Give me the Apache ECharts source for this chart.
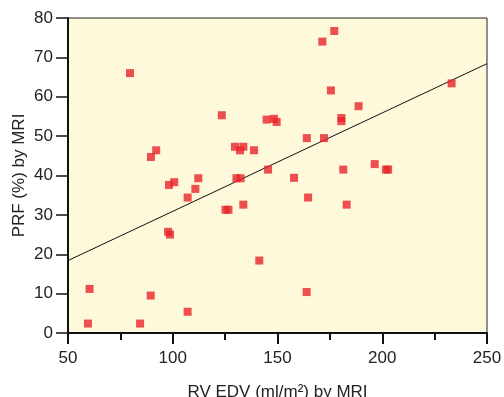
<!DOCTYPE html>
<html><head><meta charset="utf-8">
<script src="https://cdn.jsdelivr.net/npm/echarts@6/dist/echarts.min.js"></script>
<style>html,body{margin:0;padding:0;background:#fff}#c{width:504px;height:397px}</style>
</head><body><div id="c"></div>
<script>
const rvEdv = [60.3,59.5,79.6,84.4,89.5,89.6,92.1,97.8,98.7,98.2,100.7,107.1,107.1,110.8,112.2,123.4,125.2,126.6,129.7,130.4,132.4,132.1,133.7,133.7,138.8,141.3,144.8,145.5,148.3,149.6,157.9,163.9,164.0,164.6,171.4,172.2,175.5,177.1,180.5,180.5,181.4,183.0,188.7,196.4,201.8,202.8,233.1];
const prf   = [11.2,2.4,66.0,2.4,9.5,44.7,46.4,25.7,25.0,37.6,38.3,5.4,34.4,36.6,39.3,55.3,31.3,31.3,47.3,39.3,39.3,46.4,47.3,32.6,46.4,18.4,54.2,41.5,54.4,53.6,39.4,10.4,49.5,34.4,74.0,49.5,61.6,76.7,54.6,53.8,41.5,32.6,57.6,42.9,41.5,41.5,63.4];
const fitX = [50, 250];
const fitY = [18.4, 68.4];
const xTicks = [50, 100, 150, 200, 250];
const yTicks = [0, 10, 20, 30, 40, 50, 60, 70, 80];

const pts = rvEdv.map((v, i) => [v, prf[i]]);
const fit = fitX.map((v, i) => [v, fitY[i]]);
const font = '"Liberation Sans", Arial, sans-serif';
const chart = echarts.init(document.getElementById('c'), null, {renderer: 'canvas'});
chart.setOption({
  animation: false,
  grid: {left: 68, right: 17, top: 18, bottom: 64, show: true, backgroundColor: '#FEF9DA', borderColor: '#222', borderWidth: 1, containLabel: false, outerBoundsMode: 'none'},
  xAxis: {
    type: 'value', min: xTicks[0], max: xTicks[xTicks.length-1], interval: 50,
    name: 'RV EDV (ml/m²) by MRI', nameLocation: 'middle', nameGap: 51, nameMoveOverlap: false,
    nameTextStyle: {fontFamily: font, fontSize: 17, color: '#222'},
    axisLine: {show: true, onZero: false, lineStyle: {color: '#111', width: 2}},
    axisTick: {show: true, inside: false, length: 11, lineStyle: {color: '#111', width: 2}},
    minorTick: {show: true, splitNumber: 2, length: 7, lineStyle: {color: '#111', width: 2}},
    axisLabel: {fontFamily: font, fontSize: 17, color: '#222', margin: 17},
    splitLine: {show: false}
  },
  yAxis: {
    type: 'value', min: yTicks[0], max: yTicks[yTicks.length-1], interval: 10,
    name: 'PRF (%) by MRI', nameLocation: 'middle', nameGap: 40, nameMoveOverlap: false,
    nameTextStyle: {fontFamily: font, fontSize: 17, color: '#222'},
    axisLine: {show: true, onZero: false, lineStyle: {color: '#111', width: 2}},
    axisTick: {show: true, inside: false, length: 12, lineStyle: {color: '#111', width: 1.5}},
    axisLabel: {fontFamily: font, fontSize: 17, color: '#222', margin: 15},
    splitLine: {show: false}
  },
  series: [
    {type: 'line', data: fit, symbol: 'none', lineStyle: {color: '#111', width: 1}, z: 2, silent: true},
    {type: 'scatter', data: pts, symbol: 'rect', symbolSize: 8, itemStyle: {color: '#E8232A'}, z: 3}
  ]
});
</script></body></html>
